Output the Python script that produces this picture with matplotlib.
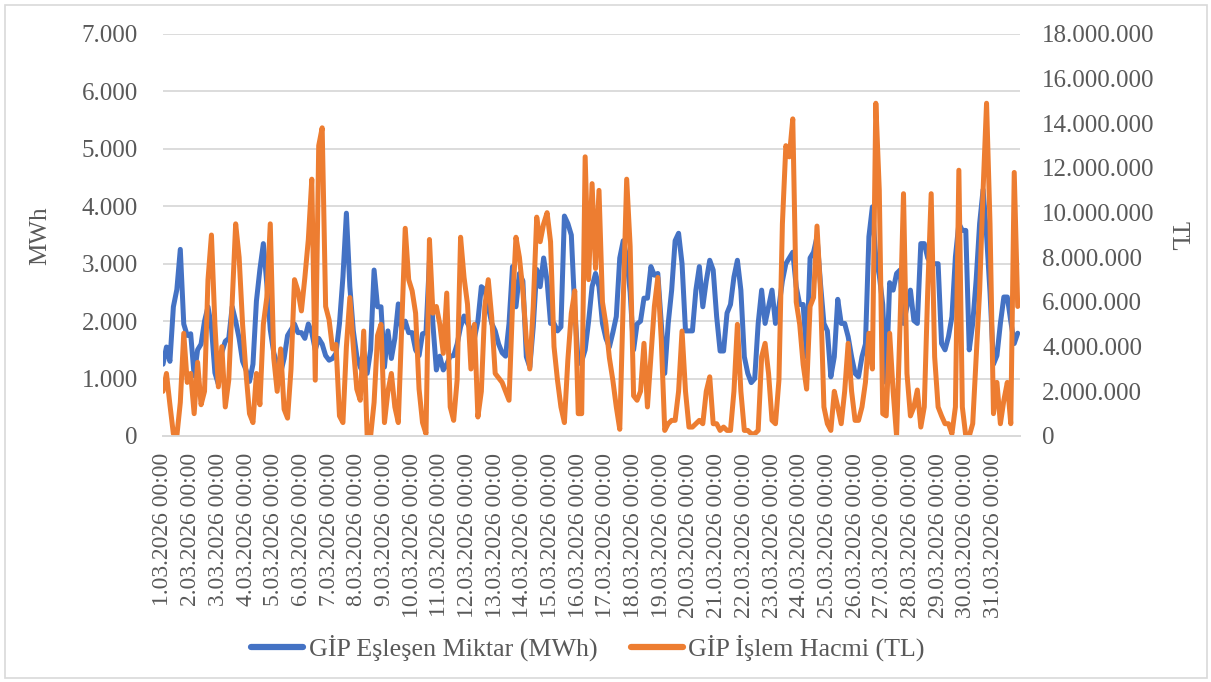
import matplotlib
matplotlib.use('Agg')
import matplotlib.pyplot as plt
import numpy as np
from matplotlib.ticker import FuncFormatter, MultipleLocator
from matplotlib.lines import Line2D
from matplotlib.patches import Rectangle

plt.rcParams['font.family'] = ['Liberation Serif', 'DejaVu Serif']

# ---- data (sampled every 3 hours, 8 values per day) ----
step_hours = 3
tick_labels = [f"{d}.03.2026 00:00" for d in range(1, 32)]

# GİP Eşleşen Miktar (MWh)
blue_mwh = [
    1250, 1550, 1300, 2250, 2550, 3250, 1950, 1750,   # 1
    1780, 1050, 1500, 1600, 2000, 2250, 1900, 1100,   # 2
    900, 1450, 1650, 1700, 2250, 2000, 1700, 1300,    # 3
    1150, 950, 1250, 2350, 2900, 3350, 2650, 1850,    # 4
    1450, 1250, 1100, 1350, 1750, 1850, 1950, 1800,   # 5
    1800, 1700, 1950, 1800, 1500, 1700, 1600, 1400,   # 6
    1320, 1350, 1440, 1960, 2770, 3880, 2600, 1830,   # 7
    1390, 1200, 1090, 1090, 1500, 2890, 2250, 2250,   # 8
    1200, 1830, 1350, 1700, 2300, 1850, 2000, 1800,   # 9
    1800, 1500, 1400, 1780, 1800, 3050, 1950, 1150,   # 10
    1390, 1150, 1250, 1390, 1400, 1600, 1900, 2090,   # 11
    1960, 1850, 1700, 2000, 2600, 2550, 2250, 1960,   # 12
    1830, 1600, 1450, 1390, 1960, 2950, 2250, 2830,   # 13
    2700, 1380, 1200, 1900, 2900, 2600, 3100, 2700,   # 14
    1960, 1960, 1830, 1900, 3830, 3700, 3500, 2200,   # 15
    1260, 1300, 1500, 2000, 2600, 2830, 2600, 1960,   # 16
    1700, 1550, 1800, 2080, 3100, 3400, 3120, 2500,   # 17
    1500, 1950, 2000, 2400, 2400, 2950, 2800, 2830,   # 18
    1960, 1090, 1960, 2540, 3400, 3530, 3000, 1830,   # 19
    1830, 1830, 2540, 2950, 2250, 2700, 3060, 2890,   # 20
    2080, 1480, 1480, 2140, 2290, 2770, 3060, 2540,   # 21
    1380, 1090, 930, 1000, 1960, 2540, 1960, 2250,    # 22
    2540, 1960, 2250, 2700, 3000, 3100, 3200, 2600,   # 23
    2290, 2290, 1380, 3100, 3200, 3470, 2660, 1960,   # 24
    1830, 1030, 1380, 2380, 1960, 1960, 1730, 1380,   # 25
    1090, 1030, 1380, 1600, 3470, 3990, 3100, 2800,   # 26
    2290, 930, 2670, 2540, 2830, 2890, 1960, 2250,    # 27
    2540, 2010, 1960, 3350, 3350, 3100, 3000, 3000,   # 28
    3000, 1610, 1500, 1730, 2080, 3120, 3700, 3580,   # 29
    3580, 1500, 1960, 2720, 3700, 4290, 3500, 2500,   # 30
    1250, 1400, 1960, 2420, 2420, 2000, 1610, 1790,   # 31
]

# GİP İşlem Hacmi (million TL)
orange_mtl = [
    2.0, 2.8, 1.4, 0.1, 0.0, 1.5, 4.6, 2.4,      # 1
    2.8, 1.0, 3.3, 1.4, 2.0, 7.0, 9.0, 5.0,      # 2
    2.2, 4.0, 1.3, 2.5, 6.0, 9.5, 8.0, 5.0,      # 3
    2.8, 1.0, 0.6, 2.8, 1.4, 5.0, 6.2, 9.5,      # 4
    3.5, 2.0, 3.9, 1.2, 0.8, 3.0, 7.0, 6.5,      # 5
    5.6, 7.1, 8.8, 11.5, 2.5, 13.0, 13.8, 5.8,   # 6
    5.2, 3.9, 4.1, 0.9, 0.6, 4.0, 6.2, 4.0,      # 7
    2.1, 1.6, 4.7, 0.0, 0.0, 1.5, 4.5, 5.0,      # 8
    0.6, 2.0, 2.8, 1.3, 0.6, 5.0, 9.3, 7.0,      # 9
    6.5, 5.5, 2.1, 0.6, 0.1, 8.8, 5.5, 5.8,      # 10
    5.0, 3.7, 6.4, 1.3, 0.7, 2.5, 8.9, 7.1,      # 11
    5.9, 3.0, 5.0, 0.85, 2.0, 5.8, 7.0, 5.3,     # 12
    2.8, 2.6, 2.4, 2.0, 1.6, 5.8, 8.9, 8.0,      # 13
    6.5, 4.3, 3.0, 5.8, 9.8, 8.7, 9.5, 10.0,     # 14
    8.7, 4.0, 2.5, 1.3, 0.6, 3.4, 5.5, 6.5,      # 15
    1.0, 1.0, 12.5, 7.0, 11.3, 7.5, 11.0, 6.0,   # 16
    5.0, 3.5, 2.5, 1.3, 0.3, 6.0, 11.5, 8.5,     # 17
    1.8, 1.6, 2.0, 4.15, 1.3, 3.55, 5.8, 7.1,    # 18
    4.3, 0.25, 0.55, 0.7, 0.7, 2.0, 4.7, 2.0,    # 19
    0.4, 0.4, 0.55, 0.7, 0.55, 2.0, 2.65, 0.55,  # 20
    0.55, 0.25, 0.4, 0.25, 0.25, 2.0, 5.0, 2.0,  # 21
    0.25, 0.25, 0.1, 0.1, 0.25, 3.55, 4.15, 2.8, # 22
    0.7, 0.55, 2.5, 9.5, 13.0, 12.5, 14.2, 6.0,  # 23
    5.0, 3.2, 2.1, 5.8, 6.2, 9.4, 6.5, 1.3,      # 24
    0.55, 0.25, 2.0, 1.3, 0.55, 2.0, 4.15, 2.0,  # 25
    0.7, 0.7, 1.3, 2.4, 4.6, 3.0, 14.9, 11.0,    # 26
    1.0, 0.9, 4.6, 2.0, 0.0, 5.0, 10.85, 2.8,    # 27
    0.9, 1.3, 2.06, 0.4, 1.3, 6.5, 10.85, 3.55,  # 28
    1.3, 0.9, 0.55, 0.55, 0.1, 1.3, 11.9, 1.3,   # 29
    0.0, 0.0, 0.55, 3.55, 6.5, 11.0, 14.9, 9.5,  # 30
    1.0, 2.4, 0.55, 1.6, 2.4, 0.55, 11.8, 5.8,   # 31
]

blue_name = "GİP Eşleşen Miktar (MWh)"
orange_name = "GİP İşlem Hacmi (TL)"
left_title = "MWh"
right_title = "TL"

BLUE = '#4472C4'
ORANGE = '#ED7D31'
GRID = '#d9d9d9'
TXT = '#595959'
FS = 18

W, H = 1211, 682
fig = plt.figure(figsize=(W / 100, H / 100), dpi=100)
fig.patch.set_facecolor('white')
fig.add_artist(Rectangle((5 / W, 4 / H), 1202 / W, 673 / H, transform=fig.transFigure,
                         fill=False, edgecolor=GRID, lw=1.2))

ax = fig.add_axes([163 / W, 1 - 436 / H, (1020 - 163) / W, (436 - 34) / H])
ax2 = ax.twinx()

hours = np.arange(len(blue_mwh)) * step_hours
orange_tl = np.array(orange_mtl) * 1e6

ax.plot(hours, blue_mwh, color=BLUE, lw=3.6, solid_joinstyle='round', solid_capstyle='round')
ax2.plot(hours, orange_tl, color=ORANGE, lw=3.6, solid_joinstyle='round', solid_capstyle='round')

ax.set_xlim(0, 743)
ax.set_ylim(0, 7000)
ax2.set_ylim(0, 18e6)
ax.yaxis.set_major_locator(MultipleLocator(1000))
ax2.yaxis.set_major_locator(MultipleLocator(2e6))

def tr_fmt(v, p):
    return f"{int(round(v)):,}".replace(',', '.')

ax.yaxis.set_major_formatter(FuncFormatter(tr_fmt))
ax2.yaxis.set_major_formatter(FuncFormatter(tr_fmt))

ax.grid(axis='y', color=GRID, lw=1.3)
ax.set_axisbelow(True)
for a in (ax, ax2):
    for s in ('top', 'left', 'right'):
        a.spines[s].set_visible(False)
    a.spines['bottom'].set_color(GRID)
    a.spines['bottom'].set_linewidth(1.3)

ax.set_xticks(np.arange(0, 744, 24))
ax.set_xticklabels(tick_labels, rotation=90, ha='center', va='top')
ax.tick_params(axis='x', length=0, pad=12, labelsize=17, colors=TXT)
ax.tick_params(axis='y', length=0, pad=18, labelsize=FS, colors=TXT)
ax2.tick_params(axis='y', length=0, pad=16, labelsize=FS, colors=TXT)

fig.text(40 / W, 1 - 236 / H, left_title, rotation=90, ha='center', va='center',
         fontsize=FS, color=TXT)
fig.text(1178 / W, 1 - 236 / H, right_title, rotation=-90, ha='center', va='center',
         fontsize=FS, color=TXT)

handles = [Line2D([], [], color=BLUE, lw=4.5, solid_capstyle='round'),
           Line2D([], [], color=ORANGE, lw=4.5, solid_capstyle='round')]
fig.legend(handles, [blue_name, orange_name], loc='center', bbox_to_anchor=(588 / W, 1 - 648 / H),
           ncol=2, frameon=False, fontsize=18.7, handlelength=2.0, handletextpad=0.2,
           columnspacing=1.3, labelcolor=TXT)

fig.savefig('out.png', dpi=100, facecolor='white')
